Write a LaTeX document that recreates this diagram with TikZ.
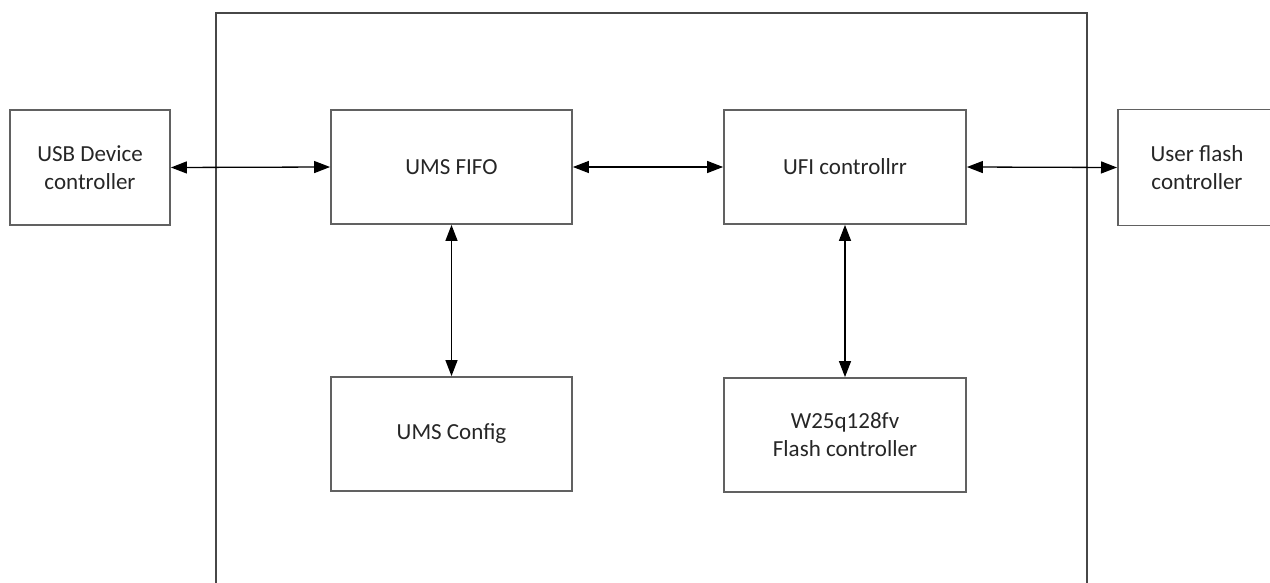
\documentclass[tikz,border=0pt]{standalone}
\usepackage{fontspec}
\setmainfont{Carlito}
\usetikzlibrary{arrows.meta}
\begin{document}
\begin{tikzpicture}[x=1pt,y=-1pt,
  blk/.style={draw=black!62,line width=1.8pt,fill=white,align=center,inner sep=0pt,
    font=\fontsize{23}{28}\selectfont,text=black!85},
  link/.style={line width=1.3pt,{Triangle[length=16pt,width=12pt]}-{Triangle[length=16pt,width=12pt]}},
  frame/.style={draw=black!72,line width=2pt}]
\useasboundingbox (0,0) rectangle (1270,583);
\begin{scope}
\clip (0,0) rectangle (1270,583);
\node[font=\fontsize{23}{28}\selectfont,anchor=base] (ttl) at (561,-4) {g};
\draw[frame] (216,640) -- (216,13) -- (1087,13) -- (1087,640);
\node[blk,minimum width=160pt,minimum height=115pt] (usb) at (90,167.5) {USB Device\\controller};
\node[blk,minimum width=241pt,minimum height=114pt] (fifo) at (451.5,167) {UMS FIFO};
\node[blk,minimum width=242pt,minimum height=114pt] (ufi) at (845,167) {UFI controllrr};
\node[blk,minimum width=170pt,minimum height=116pt,anchor=west] (user) at (1117,167.5) {};
\node[font=\fontsize{23}{28}\selectfont,align=center,text=black!85] (usertxt) at (1197,168) {User flash\\controller};
\node[blk,minimum width=241pt,minimum height=114pt] (cfg) at (451.5,434) {UMS Config};
\node[blk,minimum width=242pt,minimum height=114pt] (w25) at (845,435) {W25q128fv\\Flash controller};
\draw[link] (usb.east) -- (fifo.west);
\draw[link] (fifo.east) -- (ufi.west);
\draw[link] (ufi.east) -- (user.west);
\draw[link] (fifo.south) -- (cfg.north);
\draw[link] (ufi.south) -- (w25.north);
\end{scope}
\end{tikzpicture}
\end{document}
